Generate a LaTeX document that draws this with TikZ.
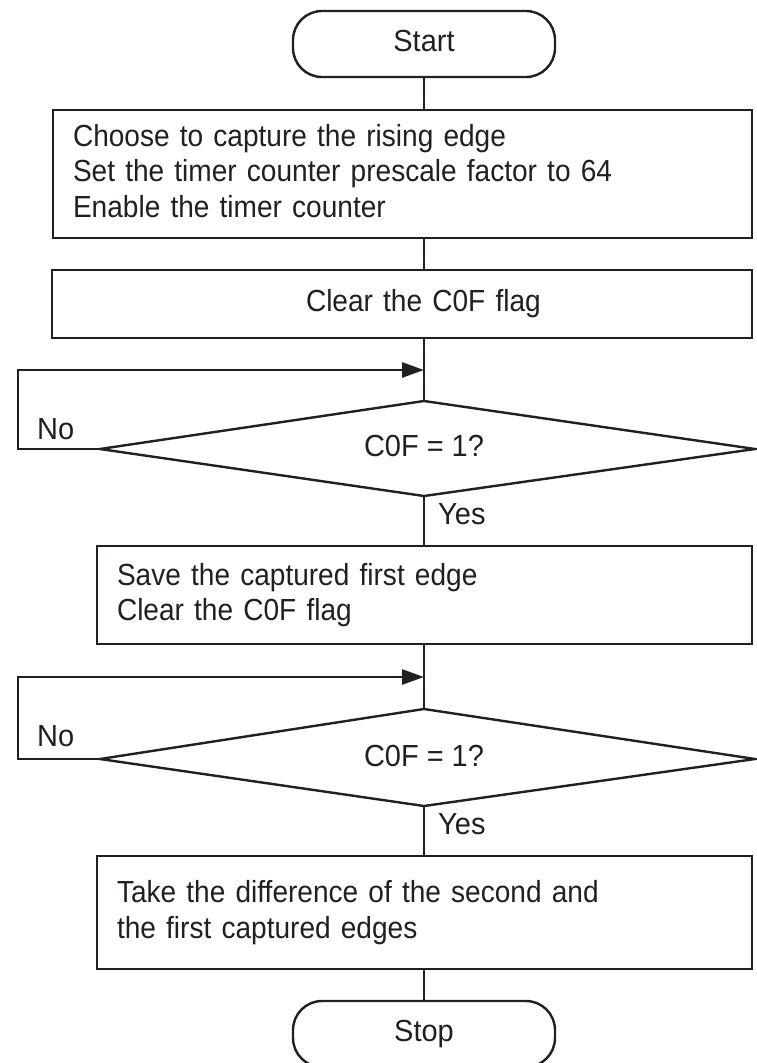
\documentclass[tikz,border=0pt]{standalone}
\usepackage{fontspec}
\setmainfont{Liberation Sans}[FakeStretch=0.95]
\newfontfamily\boxfont{Liberation Sans}[FakeStretch=0.92]
\usetikzlibrary{arrows.meta}
\definecolor{ink}{HTML}{231F20}
\begin{document}
\begin{tikzpicture}[x=1pt,y=-1pt,
  every node/.style={font=\fontsize{30.5}{35.5}\selectfont, text=ink},
  line/.style={draw=ink, line width=2.7pt},
  loop/.style={draw=ink, line width=2.7pt, -{Triangle[length=22pt,width=15pt]}},
  diam/.style={draw=ink, line width=2.4pt, line join=miter},
  procbox/.style={draw=ink, line width=2.7pt, rectangle, inner xsep=20pt, inner ysep=0pt, align=left, font=\boxfont\fontsize{30.5}{35.5}\selectfont},
  term/.style={draw=ink, line width=2.4pt, rectangle, rounded corners=29pt, minimum width=262pt, minimum height=66pt, inner sep=0pt, text height=22pt, text depth=7pt},
  lbl/.style={anchor=base west, inner sep=0pt}
]
\useasboundingbox (0,0) rectangle (757,1063);

% terminals and boxes
\node[term] (start) at (424,44) {Start};
\node[procbox, text width=659pt, minimum height=128pt] (b1) at (402.5,174)
  {Choose to capture the rising edge\\Set the timer counter prescale factor to 64\\Enable the timer counter\vphantom{g}};
\node[procbox, text width=660pt, minimum height=68pt] (b2) at (402,304)
  {\hspace*{234pt}Clear the C0F flag};

% decision 1
\coordinate (d1t) at (424,401);
\coordinate (d1l) at (100,449);
\coordinate (d1r) at (755,449);
\coordinate (d1b) at (424,496);
\coordinate (j1) at (424,370);
\draw[diam] (d1t) -- (d1r) -- (d1b) -- (d1l) -- cycle;
\node (d1) at (424,446) {C0F = 1?};
\node[lbl] (no1) at (37,439) {No};
\node[lbl] (yes1) at (438,524) {Yes};

\node[procbox, text width=615pt, minimum height=98pt] (b3) at (424.5,595)
  {Save the captured first edge\\Clear the C0F flag};

% decision 2
\coordinate (d2t) at (424,709);
\coordinate (d2l) at (100,759);
\coordinate (d2r) at (755,759);
\coordinate (d2b) at (424,806);
\coordinate (j2) at (424,677);
\draw[diam] (d2t) -- (d2r) -- (d2b) -- (d2l) -- cycle;
\node (d2) at (424,756) {C0F = 1?};
\node[lbl] (no2) at (37,746) {No};
\node[lbl] (yes2) at (438,834) {Yes};

\node[procbox, text width=615pt, minimum height=113pt] (b4) at (424.5,912.5)
  {Take the difference of the second and\\the first captured edges};
\node[term] (stop) at (424,1034) {Stop};

% connectors
\draw[line] (start.south) -- (start |- b1.north);
\draw[line] (start |- b1.south) -- (start |- b2.north);
\draw[line] (start |- b2.south) -- (d1t);
\draw[loop] (d1l) -- ++(-82,0) |- (j1);
\draw[line] (d1b) -- (d1b |- b3.north);
\draw[line] (d1b |- b3.south) -- (d2t);
\draw[loop] (d2l) -- ++(-82,0) |- (j2);
\draw[line] (d2b) -- (d2b |- b4.north);
\draw[line] (d2b |- b4.south) -- (stop.north);
\end{tikzpicture}
\end{document}
